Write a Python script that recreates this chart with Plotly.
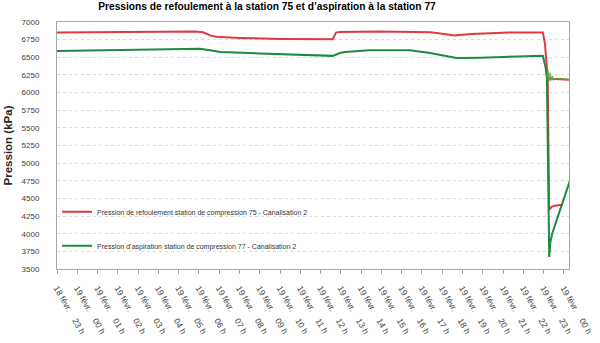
import plotly.graph_objects as go

# Hourly tick labels (hours counted from 18 févr. 23 h)
tick_hours = list(range(26))
tick_labels = [
    "18 févr.", "19 févr.", "19 févr.", "19 févr.", "19 févr.", "19 févr.", "19 févr.",
    "19 févr.", "19 févr.", "19 févr.", "19 févr.", "19 févr.", "19 févr.", "19 févr.",
    "19 févr.", "19 févr.", "19 févr.", "19 févr.", "19 févr.", "19 févr.", "19 févr.",
    "19 févr.", "19 févr.", "19 févr.", "19 févr.", "19 févr.",
]
tick_hour_text = [
    "23 h", "00 h", "01 h", "02 h", "03 h", "04 h", "05 h", "06 h", "07 h", "08 h",
    "09 h", "10 h", "11 h", "12 h", "13 h", "14 h", "15 h", "16 h", "17 h", "18 h",
    "19 h", "20 h", "21 h", "22 h", "23 h", "00 h",
]

# Pression de refoulement, station 75 (kPa)
red_t = [0.0, 2.1, 4.6, 6.8, 7.2, 7.55, 7.85, 9.0, 11.0, 13.45, 13.6, 13.76, 13.95,
         15.9, 18.4, 19.1, 19.6, 20.4, 22.3, 23.96, 24.06, 24.16, 24.2, 24.4, 25.25,
         None, 24.2, 24.27, 24.41, 24.6, 24.95]
red_p = [6850, 6855, 6860, 6865, 6855, 6810, 6790, 6775, 6760, 6750, 6755, 6850, 6860,
         6865, 6855, 6830, 6810, 6830, 6850, 6850, 6700, 6350, 6200, 6195, 6180,
         None, 6200, 4340, 4385, 4400, 4410]

# Pression d'aspiration, station 77 (kPa)
green_t = [0.0, 2.1, 4.6, 7.05, 7.55, 8.05, 10.0, 12.0, 13.1, 13.6, 13.95, 14.2, 15.4,
           17.4, 18.4, 19.7, 20.9, 22.3, 23.96, 24.1, 24.16, 24.275, 24.33, 24.41,
           24.56, 24.72, 24.97, 25.21, 25.38]
green_p = [6590, 6600, 6610, 6620, 6600, 6575, 6555, 6540, 6528, 6520, 6560, 6575, 6600,
           6600, 6560, 6490, 6495, 6510, 6520, 6350, 6200, 3670, 3880, 3990,
           4130, 4260, 4470, 4665, 4830]

# Oscillation of the suction pressure around 6 190 kPa after the drop
green_osc_t = [24.16, 24.2, 24.25, 24.3, 24.35, 24.42, 24.5, 24.6, 25.25]
green_osc_p = [6200, 6330, 6150, 6280, 6170, 6230, 6180, 6200, 6185]

RED = "#E0393E"
GREEN = "#1E8A3E"
FONT = "Arial, Liberation Sans, sans-serif"

fig = go.Figure()
fig.add_trace(go.Scatter(
    x=red_t, y=red_p, mode="lines", connectgaps=False,
    name="Pression de refoulement station de compression 75 - Canalisation 2",
    line=dict(color=RED, width=2), legendgroup="a",
))
fig.add_trace(go.Scatter(
    x=green_t, y=green_p, mode="lines",
    name="Pression d’aspiration station de compression 77 - Canalisation 2",
    line=dict(color=GREEN, width=2), legendgroup="b",
))
fig.add_trace(go.Scatter(
    x=green_osc_t, y=green_osc_p, mode="lines", showlegend=False,
    line=dict(color="#4FA83A", width=1.6), opacity=0.8, legendgroup="b",
))

gap = "\u00a0" * 4
fig.update_layout(
    width=600, height=343,
    margin=dict(l=57, r=31, t=22, b=74),
    paper_bgcolor="white", plot_bgcolor="white",
    font=dict(family=FONT, color="#404040"),
    title=dict(
        text="<b>Pressions de refoulement à la station 75 et d’aspiration à la station 77</b>",
        font=dict(size=10.2, color="#000000"),
        x=267 / 600, xanchor="center", xref="container",
        y=1 - 6 / 343, yanchor="middle", yref="container",
    ),
    showlegend=True,
    legend=dict(
        x=0.0, y=0.29, xanchor="left", yanchor="top",
        bgcolor="rgba(0,0,0,0)", font=dict(size=7, color="#333333"),
        traceorder="grouped", tracegroupgap=15, itemwidth=30,
    ),
    xaxis=dict(
        range=[0, 25.25], automargin=False,
        tickmode="array", tickvals=tick_hours,
        ticktext=[a + gap + b for a, b in zip(tick_labels, tick_hour_text)],
        tickangle=60, tickfont=dict(size=8.5, color="#404040"),
        ticklabelstandoff=6,
        ticks="outside", ticklen=4, tickcolor="#A6A6A6",
        showline=True, linecolor="#A6A6A6", linewidth=1, mirror=True,
        showgrid=False, zeroline=False,
    ),
    yaxis=dict(
        range=[3500, 7000], dtick=250, tick0=3500, automargin=False,
        tickfont=dict(size=8, color="#404040"),
        ticklabelstandoff=15,
        showline=True, linecolor="#A6A6A6", linewidth=1, mirror=True,
        showgrid=True, gridcolor="#D9D9D9", griddash="dot", gridwidth=1,
        zeroline=False,
        title=dict(text="<b>Pression (kPa)</b>", font=dict(size=11.5, color="#262626"),
                   standoff=6),
    ),
)

fig.write_html("out.html")
